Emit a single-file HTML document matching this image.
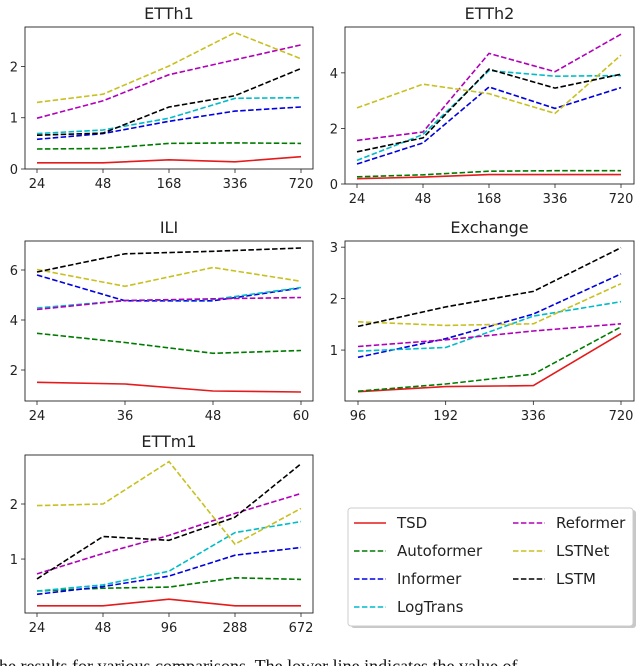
<!DOCTYPE html>
<html><head><meta charset="utf-8"><style>
html,body{margin:0;padding:0;background:#fff;width:640px;height:666px;overflow:hidden}
svg{display:block}
text{font-family:"DejaVu Sans","Liberation Sans",sans-serif;fill:#222}
.cap{font-family:"Liberation Serif",serif;font-size:18px;fill:#111}
</style></head><body>
<svg id="chart" width="640" height="666" viewBox="0 0 640 666" xmlns="http://www.w3.org/2000/svg"></svg>
<script>
const seriesNames = ["TSD","Autoformer","Informer","LogTrans","Reformer","LSTNet","LSTM"];
const seriesColors = ["#e41a1c","#007a00","#0000e0","#00bcc8","#b000b8","#c8c020","#000000"];

const etth1Cats = ["24","48","168","336","720"];
const etth1TSD = [0.12,0.12,0.18,0.14,0.24];
const etth1Auto = [0.39,0.40,0.50,0.51,0.50];
const etth1Inf = [0.58,0.69,0.93,1.13,1.21];
const etth1Log = [0.69,0.76,0.99,1.38,1.39];
const etth1Ref = [0.99,1.33,1.84,2.13,2.42];
const etth1LSTNet = [1.30,1.46,2.01,2.66,2.15];
const etth1LSTM = [0.66,0.70,1.21,1.43,1.96];
const etth1Ticks = [0,1,2];

const etth2Cats = ["24","48","168","336","720"];
const etth2TSD = [0.19,0.25,0.34,0.34,0.34];
const etth2Auto = [0.26,0.33,0.46,0.48,0.48];
const etth2Inf = [0.72,1.48,3.49,2.72,3.47];
const etth2Log = [0.85,1.78,4.08,3.88,3.90];
const etth2Ref = [1.57,1.87,4.70,4.04,5.39];
const etth2LSTNet = [2.74,3.59,3.25,2.54,4.64];
const etth2LSTM = [1.16,1.66,4.13,3.45,3.95];
const etth2Ticks = [0,2,4];

const iliCats = ["24","36","48","60"];
const iliTSD = [1.51,1.44,1.16,1.12];
const iliAuto = [3.47,3.10,2.67,2.78];
const iliInf = [5.80,4.77,4.77,5.28];
const iliLog = [4.48,4.78,4.82,5.30];
const iliRef = [4.42,4.78,4.85,4.90];
const iliLSTNet = [6.02,5.35,6.10,5.55];
const iliLSTM = [5.92,6.65,6.75,6.88];
const iliTicks = [2,4,6];

const exCats = ["96","192","336","720"];
const exTSD = [0.19,0.29,0.31,1.32];
const exAuto = [0.20,0.34,0.53,1.45];
const exInf = [0.86,1.22,1.70,2.48];
const exLog = [0.98,1.05,1.66,1.94];
const exRef = [1.07,1.20,1.37,1.51];
const exLSTNet = [1.55,1.48,1.51,2.29];
const exLSTM = [1.46,1.84,2.14,2.99];
const exTicks = [1,2,3];

const ettm1Cats = ["24","48","96","288","672"];
const ettm1TSD = [0.15,0.15,0.27,0.15,0.15];
const ettm1Auto = [0.42,0.47,0.49,0.66,0.63];
const ettm1Inf = [0.36,0.50,0.69,1.07,1.21];
const ettm1Log = [0.42,0.53,0.78,1.48,1.68];
const ettm1Ref = [0.73,1.10,1.43,1.83,2.19];
const ettm1LSTNet = [1.97,2.00,2.77,1.27,1.92];
const ettm1LSTM = [0.64,1.41,1.34,1.76,2.73];
const ettm1Ticks = [1,2];

const NS="http://www.w3.org/2000/svg";
const svg=document.getElementById('chart');
function mk(tag,attrs,parent){const e=document.createElementNS(NS,tag);for(const k in attrs)e.setAttribute(k,attrs[k]);(parent||svg).appendChild(e);return e;}

const panels=[
 {id:"etth1",title:"ETTh1",box:[25,27,313,169],ymin:0,ymax:2.77,x0:37,x1:301,cats:etth1Cats,ticks:etth1Ticks,data:[etth1TSD,etth1Auto,etth1Inf,etth1Log,etth1Ref,etth1LSTNet,etth1LSTM]},
 {id:"etth2",title:"ETTh2",box:[345,27,634,184],ymin:0,ymax:5.65,x0:357,x1:621,cats:etth2Cats,ticks:etth2Ticks,data:[etth2TSD,etth2Auto,etth2Inf,etth2Log,etth2Ref,etth2LSTNet,etth2LSTM]},
 {id:"ili",title:"ILI",box:[25,241,313,401],ymin:0.76,ymax:7.16,x0:37,x1:301,cats:iliCats,ticks:iliTicks,data:[iliTSD,iliAuto,iliInf,iliLog,iliRef,iliLSTNet,iliLSTM]},
 {id:"exchange",title:"Exchange",box:[345,241,634,401],ymin:0.01,ymax:3.12,x0:358,x1:621,cats:exCats,ticks:exTicks,data:[exTSD,exAuto,exInf,exLog,exRef,exLSTNet,exLSTM]},
 {id:"ettm1",title:"ETTm1",box:[25,455,313,613],ymin:0.02,ymax:2.89,x0:37,x1:301,cats:ettm1Cats,ticks:ettm1Ticks,data:[ettm1TSD,ettm1Auto,ettm1Inf,ettm1Log,ettm1Ref,ettm1LSTNet,ettm1LSTM]}
];

panels.forEach(p=>{
  const [l,t,r,b]=p.box;
  const g=mk('g',{});
  
  
  const n=p.cats.length;
  const xs=i=>p.x0+(p.x1-p.x0)*i/(n-1);
  const ys=v=>b-(v-p.ymin)/(p.ymax-p.ymin)*(b-t);
  const tt=mk('text',{x:(l+r)/2,y:t-8,'text-anchor':'middle','font-size':16},g);
  tt.textContent=p.title;
  
  
  p.cats.forEach((c,i)=>{
    mk('line',{x1:xs(i),x2:xs(i),y1:b,y2:b+4,stroke:'#222','stroke-width':0.8},g);
    const tx=mk('text',{x:xs(i),y:b+19,'text-anchor':'middle','font-size':13},g);
    tx.textContent=c;
    
    
  });
  p.ticks.forEach(v=>{
    mk('line',{x1:l-4,x2:l,y1:ys(v),y2:ys(v),stroke:'#222','stroke-width':0.8},g);
    const ty=mk('text',{x:l-7,y:ys(v)+5,'text-anchor':'end','font-size':13},g);
    ty.textContent=String(v);
    
    
  });
  p.data.forEach((arr,si)=>{
    const pts=arr.map((v,i)=>xs(i).toFixed(1)+','+ys(v).toFixed(1)).join(' ');
    const a={points:pts,fill:'none',stroke:seriesColors[si],'stroke-width':1.6};
    if(si>0)a['stroke-dasharray']='5.5,2.4';
    const pl=mk('polyline',a,g);
    
    
  });
  const fr=mk('rect',{x:l,y:t,width:r-l,height:b-t,fill:'none',stroke:'#222','stroke-width':0.9},g);
  
  
});

const lg=mk('g',{});


mk('rect',{x:351,y:510,width:285,height:118,rx:3,fill:'#c8c8c8'},lg);
mk('rect',{x:348,y:508,width:285,height:118,rx:3,fill:'#fff',stroke:'#ccc','stroke-width':1},lg);
const legPos=[[0,0],[0,1],[0,2],[0,3],[1,0],[1,1],[1,2]];
seriesNames.forEach((nm,si)=>{
  const [c,rw]=legPos[si];
  const lx=c?513:354, ty=523+rw*28;
  const a={x1:lx,x2:lx+32,y1:ty,y2:ty,stroke:seriesColors[si],'stroke-width':1.6};
  if(si>0)a['stroke-dasharray']='5.5,2.4';
  mk('line',a,lg);
  const tx=mk('text',{x:lx+43,y:ty+5,'font-size':15},lg);
  tx.textContent=nm;
  
  
});

const cap=mk('text',{x:-6,y:672,'class':'cap'});
cap.textContent="the results for various comparisons. The lower line indicates the value of";


</script>
</body></html>
